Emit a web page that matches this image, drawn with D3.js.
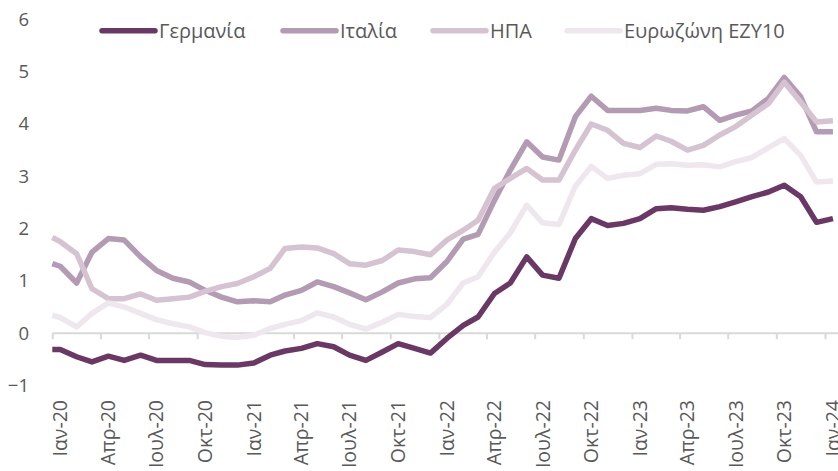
<!DOCTYPE html>
<html>
<head>
<meta charset="utf-8">
<script src="https://cdn.jsdelivr.net/npm/d3@7/dist/d3.min.js"></script>
<style>
  html, body { margin: 0; padding: 0; background: #ffffff; }
  svg { display: block; }
  text { font-family: "Open Sans", "Noto Sans", sans-serif; fill: #595959; }
</style>
</head>
<body>
<svg id="chart" width="838" height="471"></svg>
<script>
// ---------- DATA ----------
const dates = [
  "2020-01-01",
  "2020-01-16","2020-02-16","2020-03-16","2020-04-16","2020-05-16","2020-06-16",
  "2020-07-16","2020-08-16","2020-09-16","2020-10-16","2020-11-16","2020-12-16",
  "2021-01-16","2021-02-16","2021-03-16","2021-04-16","2021-05-16","2021-06-16",
  "2021-07-16","2021-08-16","2021-09-16","2021-10-16","2021-11-16","2021-12-16",
  "2022-01-16","2022-02-16","2022-03-16","2022-04-16","2022-05-16","2022-06-16",
  "2022-07-16","2022-08-16","2022-09-16","2022-10-16","2022-11-16","2022-12-16",
  "2023-01-16","2023-02-16","2023-03-16","2023-04-16","2023-05-16","2023-06-16",
  "2023-07-16","2023-08-16","2023-09-16","2023-10-16","2023-11-16","2023-12-16",
  "2024-01-16"
];

const germany = [
  -0.31,
  -0.31,-0.45,-0.55,-0.44,-0.52,-0.42,-0.52,-0.52,-0.52,-0.60,-0.61,-0.61,
  -0.57,-0.42,-0.34,-0.29,-0.20,-0.26,-0.42,-0.52,-0.36,-0.20,-0.29,-0.38,
  -0.10,0.15,0.31,0.76,0.96,1.46,1.11,1.05,1.81,2.19,2.06,2.10,
  2.19,2.38,2.40,2.37,2.35,2.42,2.51,2.61,2.70,2.83,2.61,2.12,
  2.19
];

const italy = [
  1.33,
  1.28,0.96,1.55,1.81,1.78,1.46,1.20,1.05,0.98,0.82,0.69,0.60,
  0.62,0.60,0.73,0.82,0.98,0.89,0.77,0.64,0.79,0.96,1.04,1.06,
  1.37,1.80,1.89,2.54,3.12,3.66,3.37,3.31,4.14,4.53,4.26,4.26,
  4.26,4.30,4.26,4.25,4.33,4.07,4.17,4.25,4.49,4.89,4.52,3.85,
  3.85
];

const usa = [
  1.83,
  1.75,1.52,0.85,0.66,0.66,0.75,0.63,0.66,0.69,0.80,0.89,0.95,
  1.08,1.24,1.62,1.65,1.63,1.52,1.33,1.30,1.39,1.59,1.56,1.50,
  1.78,1.97,2.16,2.77,2.96,3.15,2.93,2.93,3.50,4.00,3.88,3.63,
  3.55,3.77,3.67,3.50,3.59,3.79,3.95,4.17,4.39,4.80,4.42,4.04,
  4.06
];

const eurozone = [
  0.34,
  0.30,0.12,0.38,0.58,0.50,0.38,0.26,0.18,0.12,0.01,-0.06,-0.08,
  -0.04,0.09,0.17,0.24,0.39,0.31,0.17,0.08,0.21,0.36,0.32,0.30,
  0.55,0.96,1.08,1.55,1.92,2.45,2.11,2.08,2.81,3.19,2.96,3.02,
  3.05,3.23,3.24,3.21,3.22,3.18,3.28,3.36,3.55,3.72,3.40,2.89,
  2.91
];

const seriesNames = ["Γερμανία", "Ιταλία", "ΗΠΑ", "Ευρωζώνη EZY10"];
const seriesColors = ["#6A3864", "#B29BB3", "#D5C3D2", "#EEE7ED"];

const tickDates = [
  "2020-01-01","2020-04-01","2020-07-01","2020-10-01",
  "2021-01-01","2021-04-01","2021-07-01","2021-10-01",
  "2022-01-01","2022-04-01","2022-07-01","2022-10-01",
  "2023-01-01","2023-04-01","2023-07-01","2023-10-01",
  "2024-01-01"
];
const tickLabels = [
  "Ιαν-20","Απρ-20","Ιουλ-20","Οκτ-20",
  "Ιαν-21","Απρ-21","Ιουλ-21","Οκτ-21",
  "Ιαν-22","Απρ-22","Ιουλ-22","Οκτ-22",
  "Ιαν-23","Απρ-23","Ιουλ-23","Οκτ-23",
  "Ιαν-24"
];
const yTicks = [-1, 0, 1, 2, 3, 4, 5, 6];

// ---------- LAYOUT ----------
const svg = d3.select("#chart");
const parse = d3.utcParse("%Y-%m-%d");
const X0 = 52.3, X1 = 825.0;          // Jan-20 .. Jan-24 tick positions
const monthW = (X1 - X0) / 48;

const x = d3.scaleUtc()
  .domain([parse("2020-01-01"), parse("2024-01-01")])
  .range([X0, X1]);
const y = d3.scaleLinear().domain([0, 5]).range([333.2, 71.7]);

// zero axis line + ticks
svg.append("line")
  .attr("x1", X0).attr("x2", 838)
  .attr("y1", y(0)).attr("y2", y(0))
  .attr("stroke", "#D9D9D9").attr("stroke-width", 2);
const xAxis = d3.axisBottom(x)
  .tickValues(tickDates.map(parse))
  .tickSize(6).tickSizeOuter(0).tickFormat("");
const gx = svg.append("g").attr("transform", `translate(0,${y(0)})`).call(xAxis);
gx.select(".domain").remove();
gx.selectAll(".tick line").attr("stroke", "#D9D9D9").attr("stroke-width", 2);

// x labels (centered on the month, rotated)
svg.append("g").selectAll("text")
  .data(tickDates)
  .join("text")
  .attr("transform", (d) => `translate(${x(parse(d)) + monthW / 2},400) rotate(-90)`)
  .attr("text-anchor", "end")
  .attr("dy", "0.35em")
  .style("font-size", "19.5px")
  .text((d, i) => tickLabels[i]);

// y labels
const yAxis = d3.axisLeft(y).tickValues(yTicks).tickSize(0).tickFormat(d3.format("d"));
const gy = svg.append("g").attr("transform", "translate(29,0)").call(yAxis);
gy.select(".domain").remove();
gy.selectAll(".tick text")
  .attr("x", 0)
  .style("font-size", "18.5px")
  .style("font-family", '"Open Sans", "Noto Sans", sans-serif')
  .attr("fill", "#595959");

// lines
const allSeries = [germany, italy, usa, eurozone];
const line = d3.line()
  .x((d, i) => x(parse(dates[i])))
  .y((d) => y(d));
svg.append("g").selectAll("path")
  .data(allSeries)
  .join("path")
  .attr("d", (d) => line(d))
  .attr("fill", "none")
  .attr("stroke", (d, i) => seriesColors[i])
  .attr("stroke-width", 5.5)
  .attr("stroke-linejoin", "round")
  .attr("stroke-linecap", "butt");

// legend
const legendX = [102, 283, 433, 567];
const lg = svg.append("g");
seriesNames.forEach((name, i) => {
  lg.append("line")
    .attr("x1", legendX[i]).attr("x2", legendX[i] + 53)
    .attr("y1", 30.7).attr("y2", 30.7)
    .attr("stroke", seriesColors[i]).attr("stroke-width", 5.5)
    .attr("stroke-linecap", "round");
  lg.append("text")
    .attr("x", legendX[i] + 57)
    .attr("y", 37.5)
    .style("font-size", "20px")
    .text(name);
});
</script>
</body>
</html>
